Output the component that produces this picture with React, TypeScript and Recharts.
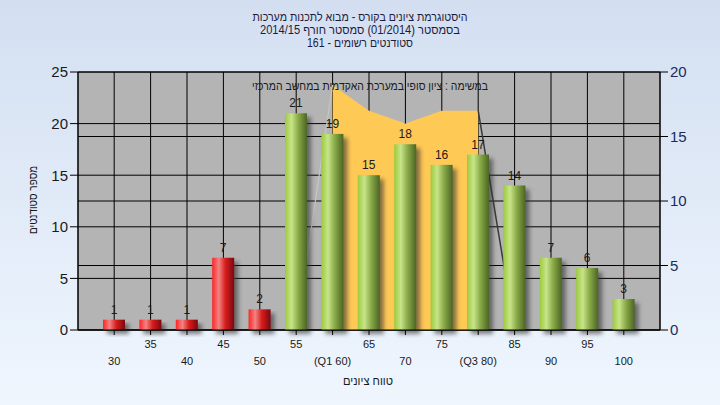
import React from "react";
import {
    ComposedChart,
    Bar,
    Area,
    Line,
    XAxis,
    YAxis,
    CartesianGrid,
    LabelList,
} from "recharts";

// score ranges (category axis)
const scores = ["30", "35", "40", "45", "50", "55", "60", "65", "70", "75", "80", "85", "90", "95", "100"];
const scoreLabels = ["30", "35", "40", "45", "50", "55", "(Q1 60)", "65", "70", "75", "(Q3 80)", "85", "90", "95", "100"];
// number of students per range (left axis)
const students = [1, 1, 1, 7, 2, 21, 19, 15, 18, 16, 17, 14, 7, 6, 3];
// final grade band in the academic system (right axis)
const finalGrade = [null, null, null, null, null, null, 19, 17, 16, 17, 17, null, null, null, null];
const edgeLeft = [null, null, null, null, null, 0, 19, null, null, null, null, null, null, null, null];
const edgeRight = [null, null, null, null, null, null, null, null, null, null, 17, 0, null, null, null];
const passScore = 55;

const leftTicks = [0, 5, 10, 15, 20, 25];
const rightTicks = [0, 5, 10, 15, 20];

const titleLines = [
    "היסטוגרמת ציונים בקורס - מבוא לתכנות מערכות",
    "בסמסטר  (01/2014)  סמסטר חורף 2014/15",
    "סטודנטים רשומים - 161",
];
const titleWidths = [215, 200, 106];
const noteText = "במשימה : ציון סופי במערכת האקדמית במחשב המרכזי";
const yTitle = "מספר סטודנטים";
const xTitle = "טווח ציונים";

const data = scores.map((score, i) => ({
    score,
    students: students[i],
    finalGrade: finalGrade[i],
    edgeLeft: edgeLeft[i],
    edgeRight: edgeRight[i],
}));

const font = "'Liberation Sans', Arial, sans-serif";

const BarShape = (props: any) => {
    const { x, y, width, height, payload } = props;
    if (!height) return null;
    const fail = Number(payload.score) < passScore;
    return (
        <g>
            <rect
                x={x + 4}
                y={y + 4}
                width={width}
                height={height}
                fill="#303030"
                opacity={0.6}
                filter="url(#barShadow)"
            />
            <rect
                x={x}
                y={y}
                width={width}
                height={height}
                fill={fail ? "url(#redGrad)" : "url(#greenGrad)"}
            />
        </g>
    );
};

const ScoreTick = (props: any) => {
    const { x, y, payload } = props;
    const idx = scores.indexOf(String(payload.value));
    const upper = idx % 2 === 1;
    return (
        <text
            x={x}
            y={upper ? y + 11 : y + 28}
            textAnchor="middle"
            fontSize={11}
            fill="#1a1a1a"
            fontFamily={font}
        >
            {scoreLabels[idx]}
        </text>
    );
};

export default function App() {
    return (
        <div
            style={{
                position: "relative",
                width: 720,
                height: 405,
                background: "linear-gradient(to bottom, #d3dff1, #eff6fe)",
                fontFamily: font,
            }}
        >
            <style>{`body{margin:0}`}</style>
            <ComposedChart
                width={720}
                height={405}
                data={data}
                margin={{ top: 72, right: 0, bottom: 0, left: 0 }}
            >
                <defs>
                    <linearGradient id="greenGrad" x1="0" y1="0" x2="1" y2="0">
                        <stop offset="0" stopColor="#9ccb3c" />
                        <stop offset="0.3" stopColor="#c8e48a" />
                        <stop offset="0.6" stopColor="#8aab48" />
                        <stop offset="1" stopColor="#4b6524" />
                    </linearGradient>
                    <linearGradient id="redGrad" x1="0" y1="0" x2="1" y2="0">
                        <stop offset="0" stopColor="#ff2424" />
                        <stop offset="0.3" stopColor="#f28484" />
                        <stop offset="0.6" stopColor="#d81c1c" />
                        <stop offset="1" stopColor="#7a0810" />
                    </linearGradient>
                    <filter id="barShadow" x="-50%" y="-10%" width="200%" height="130%">
                        <feGaussianBlur stdDeviation="2" />
                    </filter>
                </defs>
                <CartesianGrid
                    yAxisId="left"
                    stroke="#000"
                    strokeOpacity={1}
                    fill="#b4b4b4"
                    fillOpacity={1}
                />
                <CartesianGrid
                    yAxisId="right"
                    vertical={false}
                    stroke="#000"
                    strokeOpacity={1}
                />
                <XAxis
                    dataKey="score"
                    interval={0}
                    minTickGap={0}
                    height={75}
                    padding={{ left: 18, right: 18 }}
                    tick={ScoreTick}
                    tickSize={5}
                    stroke="#000"
                />
                <YAxis
                    yAxisId="left"
                    domain={[0, 25]}
                    ticks={leftTicks}
                    width={78}
                    tickSize={8}
                    stroke="#000"
                    tick={{ fontSize: 15, fill: "#1a1a1a" }}
                />
                <YAxis
                    yAxisId="right"
                    orientation="right"
                    domain={[0, 20]}
                    ticks={rightTicks}
                    width={60}
                    tickSize={8}
                    stroke="#000"
                    tick={{ fontSize: 15, fill: "#1a2c5c", textAnchor: "start" }}
                />
                <Area
                    yAxisId="right"
                    dataKey="finalGrade"
                    type="linear"
                    fill="#ffc956"
                    fillOpacity={1}
                    stroke="none"
                    isAnimationActive={false}
                />
                <Line
                    yAxisId="right"
                    dataKey="edgeLeft"
                    type="linear"
                    stroke="#c6c6c6"
                    strokeWidth={1.2}
                    dot={false}
                    activeDot={false}
                    zIndex={150}
                    isAnimationActive={false}
                />
                <Line
                    yAxisId="right"
                    dataKey="edgeRight"
                    type="linear"
                    stroke="#3a3a3a"
                    strokeWidth={1.5}
                    dot={false}
                    activeDot={false}
                    zIndex={150}
                    isAnimationActive={false}
                />
                <Bar
                    yAxisId="left"
                    dataKey="students"
                    barSize={22}
                    shape={<BarShape />}
                    isAnimationActive={false}
                >
                    <LabelList
                        dataKey="students"
                        position="top"
                        offset={6}
                        fontSize={12}
                        fill="#1a1a1a"
                    />
                </Bar>
            </ComposedChart>
            <svg
                width={720}
                height={405}
                style={{ position: "absolute", left: 0, top: 0, pointerEvents: "none" }}
                fontFamily={font}
            >
                {titleLines.map((line, i) => (
                    <text
                        key={i}
                        x={360}
                        y={21 + i * 13}
                        textAnchor="middle"
                        direction="rtl"
                        fontSize={12}
                        textLength={titleWidths[i]}
                        lengthAdjust="spacingAndGlyphs"
                        fill="#1c1c3c"
                    >
                        {line}
                    </text>
                ))}
                <text
                    x={370}
                    y={90}
                    textAnchor="middle"
                    direction="rtl"
                    fontSize={12}
                    textLength={236}
                    lengthAdjust="spacingAndGlyphs"
                    fill="#1a1a1a"
                >
                    {noteText}
                </text>
                <text
                    x={37}
                    y={200}
                    textAnchor="middle"
                    direction="rtl"
                    fontSize={12}
                    textLength={68}
                    lengthAdjust="spacingAndGlyphs"
                    fill="#1a1a1a"
                    transform="rotate(-90 37 200)"
                >
                    {yTitle}
                </text>
                <text
                    x={368}
                    y={385}
                    textAnchor="middle"
                    direction="rtl"
                    fontSize={12}
                    textLength={50}
                    lengthAdjust="spacingAndGlyphs"
                    fill="#1a1a1a"
                >
                    {xTitle}
                </text>
            </svg>
        </div>
    );
}
